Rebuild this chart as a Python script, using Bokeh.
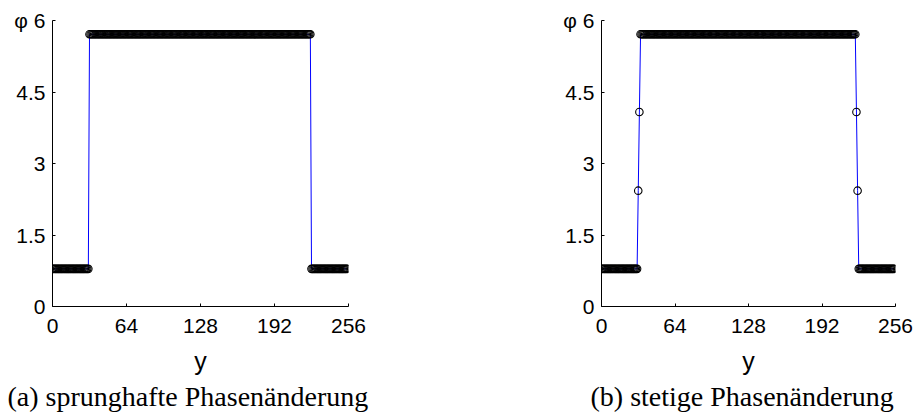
from bokeh.plotting import figure
from bokeh.models import Range1d, FixedTicker, Title
from bokeh.layouts import row
from bokeh.embed import file_html
from bokeh.resources import INLINE

# ---- data ----
y_index = list(range(256))
phase_a = [0.79] * 32 + [5.71] * 192 + [0.79] * 32
phase_b = [0.79] * 32 + [2.43, 4.08] + [5.71] * 188 + [4.08, 2.43] + [0.79] * 32
x_ticks = [0, 64, 128, 192, 256]
y_ticks = [0, 1.5, 3, 4.5, 6]
y_tick_labels = ["0", "1.5", "3", "4.5", "φ 6"]
captions = ["(a) sprunghafte Phasenänderung", "(b) stetige Phasenänderung"]

TICK_FONT = "Liberation Sans"


def make_panel(values, caption, width, border_left, border_right, cap_offset):
    p = figure(width=width, height=414, output_backend="svg", toolbar_location=None,
               x_range=Range1d(0, 256), y_range=Range1d(0, 6),
               min_border_left=border_left, min_border_right=border_right,
               min_border_top=20, min_border_bottom=108)
    p.outline_line_color = None
    p.xgrid.visible = False
    p.ygrid.visible = False
    p.background_fill_color = "white"
    p.border_fill_color = "white"

    for ax in (p.xaxis[0], p.yaxis[0]):
        ax.axis_line_color = "black"
        ax.major_tick_line_color = "black"
        ax.major_tick_in = 3
        ax.major_tick_out = 0
        ax.minor_tick_line_color = None
        ax.major_label_text_font = TICK_FONT
        ax.major_label_text_font_size = "21px"
        ax.major_label_text_color = "black"

    p.xaxis.ticker = FixedTicker(ticks=x_ticks)
    p.xaxis.major_label_standoff = 12
    p.xaxis.axis_label = "y"
    p.xaxis.axis_label_text_font = TICK_FONT
    p.xaxis.axis_label_text_font_size = "25px"
    p.xaxis.axis_label_text_font_style = "normal"
    p.xaxis.axis_label_text_color = "black"
    p.xaxis.axis_label_standoff = 11

    p.yaxis.ticker = FixedTicker(ticks=y_ticks)
    p.yaxis.major_label_overrides = {t: l for t, l in zip(y_ticks, y_tick_labels)}
    p.yaxis.major_label_standoff = 7

    p.line(y_index, values, line_color="#0000ff", line_width=1)
    p.scatter(y_index, values, marker="circle", size=7.5, line_color="black",
              line_width=1.1, fill_color=None)

    p.add_layout(Title(text=caption, align="left", offset=cap_offset,
                       text_font="Liberation Serif", text_font_size="28px",
                       text_font_style="normal", text_color="black",
                       standoff=2), "below")
    return p


p1 = make_panel(phase_a, captions[0], 450, 52, 102, -45)
p2 = make_panel(phase_b, captions[1], 465, 151, 20, -11)

layout = row(p1, p2)
open("out.html", "w").write(file_html(layout, INLINE))
